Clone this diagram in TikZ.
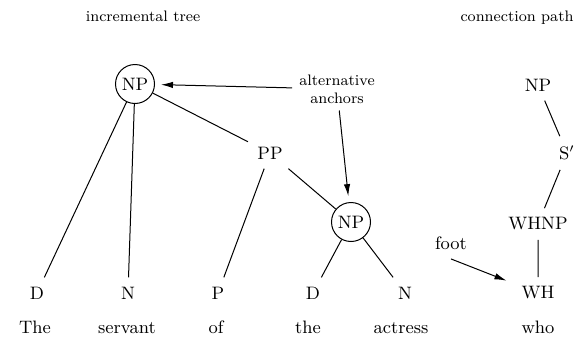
\documentclass[tikz,border=0pt]{standalone}
\usetikzlibrary{arrows.meta}
\tikzset{
  lab/.style={font=\fontsize{9}{11}\selectfont, inner sep=4.5pt},
  ring/.style={lab, draw, circle, minimum size=19.5pt, inner sep=0pt},
  word/.style={font=\fontsize{9}{11}\selectfont, anchor=base},
  note/.style={font=\fontsize{7.6}{9}\selectfont, align=center},
  pointer/.style={-{Latex[length=6pt,width=3.2pt]}, shorten >=3pt}
}
\begin{document}
\begin{tikzpicture}[x=0.5pt, y=-0.5pt, line width=0.5pt]
    \useasboundingbox (0,0) rectangle (584,338);
    \node[note, anchor=base] (ttree) at (143,21) {incremental tree};
    \node[note, anchor=base] (tpath) at (517,21) {connection path};
    % incremental tree
    \node[ring] (np1) at (135,84) {NP};
    \node[lab] (pp) at (270,153) {PP};
    \node[ring] (np2) at (351,222) {NP};
    \node[lab] (d1) at (37,293) {D};
    \node[lab] (n1) at (128,293) {N};
    \node[lab] (p) at (218,293) {P};
    \node[lab] (d2) at (313,293) {D};
    \node[lab] (n2) at (405,293) {N};
    \node[word] (w1) at (35,333) {The};
    \node[word] (w2) at (127,333) {servant};
    \node[word] (w3) at (216,333) {of};
    \node[word] (w4) at (308,333) {the};
    \node[word] (w5) at (401,333) {actress};
    \draw (np1) -- (d1) (np1) -- (n1) (np1) -- (pp) (pp) -- (p) (pp) -- (np2)
          (np2) -- (d2) (np2) -- (n2);
    \node[note] (alt) at (337,89) {alternative\\anchors};
    \draw[pointer] (alt) -- (np1);
    \draw[pointer] (alt) -- (np2);
    % connection path
    \node[lab] (np3) at (538,85) {NP};
    \node[lab] (sbar) at (567,153) {S$'$};
    \node[lab] (whnp) at (538,224) {WHNP};
    \node[lab] (wh) at (538,293) {WH};
    \node[word] (w6) at (538,333) {who};
    \draw (np3) -- (sbar) -- (whnp) -- (wh);
    \node[lab] (foot) at (451,243) {foot};
    \draw[pointer] (foot.south) -- (wh);
\end{tikzpicture}
\end{document}
